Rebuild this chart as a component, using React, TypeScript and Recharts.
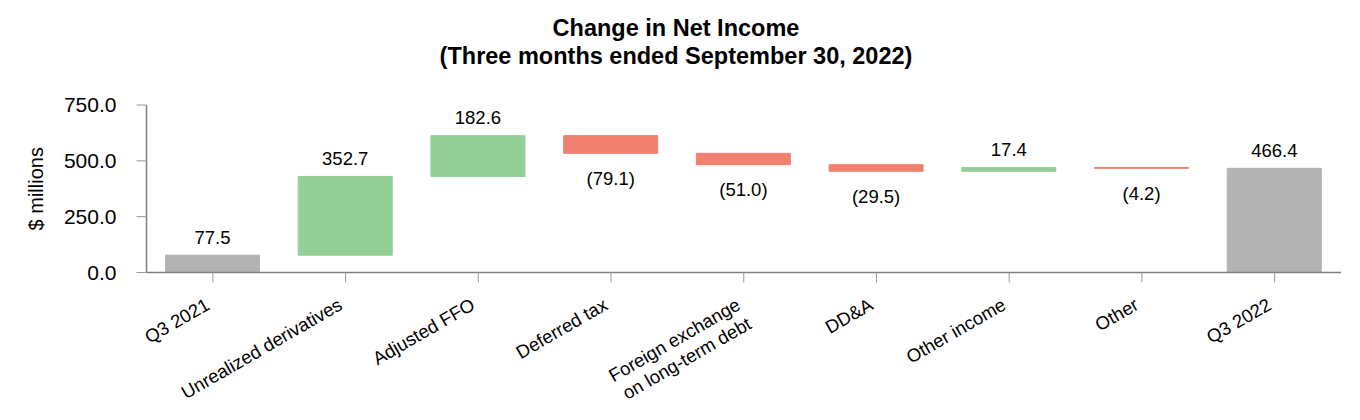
import React from "react";
import { BarChart, Bar, XAxis, YAxis, Cell, LabelList } from "recharts";

const categories = [
  "Q3 2021",
  "Unrealized derivatives",
  "Adjusted FFO",
  "Deferred tax",
  "Foreign exchange\non long-term debt",
  "DD&A",
  "Other income",
  "Other",
  "Q3 2022",
];
const changes = [77.5, 352.7, 182.6, -79.1, -51.0, -29.5, 17.4, -4.2, 466.4];
const isTotal = [true, false, false, false, false, false, false, false, true];
const valueLabels = ["77.5", "352.7", "182.6", "(79.1)", "(51.0)", "(29.5)", "17.4", "(4.2)", "466.4"];
const yTicks = [0, 250, 500, 750];

const GRAY = "#b3b3b3";
const GREEN = "#93cf96";
const RED = "#f08070";
const AXIS = "#808080";
const FONT = "'Liberation Sans', Arial, Helvetica, sans-serif";

// running total -> invisible base + visible step
let running = 0;
const data = categories.map((name, i) => {
  const ch = changes[i];
  if (isTotal[i]) {
    running = ch;
    return { name, base: 0, size: ch, color: GRAY, up: true, label: valueLabels[i] };
  }
  const prev = running;
  running = prev + ch;
  return {
    name,
    base: Math.min(prev, running),
    size: Math.abs(ch),
    color: ch >= 0 ? GREEN : RED,
    up: ch >= 0,
    label: valueLabels[i],
  };
});

const CategoryTick = (props: any) => {
  const { x, y, payload } = props;
  const lines = String(payload.value).split("\n");
  return (
    <g transform={`translate(${x - 2},${y + 24}) rotate(-30)`}>
      <text textAnchor="end" fontSize={18.5} fontFamily={FONT} fill="#000">
        {lines.map((l, i) => (
          <tspan key={i} x={0} dy={i === 0 ? 0 : 22}>
            {l}
          </tspan>
        ))}
      </text>
    </g>
  );
};

const ValueLabel = (props: any) => {
  const { x, y, width, height, index } = props;
  const d = data[index];
  if (!d) return null;
  const cx = Number(x) + Number(width) / 2;
  const ty = d.up ? Number(y) - 18 : Number(y) + Number(height) + 25;
  return (
    <text x={cx} y={ty} textAnchor="middle" dominantBaseline="central" fontSize={18.5} fontFamily={FONT} fill="#000">
      {d.label}
    </text>
  );
};

const YLabel = (props: any) => {
  const vb = props.viewBox || {};
  const cy = (vb.y ?? 105) + (vb.height ?? 167.5) / 2;
  return (
    <text
      x={36}
      y={cy}
      transform={`rotate(-90, 36, ${cy})`}
      textAnchor="middle"
      dominantBaseline="central"
      fontSize={20}
      fontFamily={FONT}
      fill="#000"
    >
      $ millions
    </text>
  );
};

export default function App() {
  return (
    <div style={{ position: "absolute", left: 0, top: 0, width: 1360, height: 420, background: "#fff", fontFamily: FONT }}>
      <div
        style={{
          position: "absolute",
          left: 0,
          top: 14,
          width: 1352,
          textAlign: "center",
          fontSize: 23.5,
          fontWeight: "bold",
          lineHeight: "28px",
          color: "#000",
        }}
      >
        <div>Change in Net Income</div>
        <div>(Three months ended September 30, 2022)</div>
      </div>
      <BarChart
        width={1360}
        height={420}
        data={data}
        margin={{ top: 105, right: 19, bottom: 7.5, left: 1.5 }}
        barSize={94}
      >
        <XAxis
          dataKey="name"
          interval={0}
          height={140}
          tickSize={10}
          axisLine={{ stroke: AXIS, strokeWidth: 1.5 }}
          tickLine={{ stroke: "#999" }}
          tick={<CategoryTick />}
        />
        <YAxis
          width={145}
          domain={[0, 750]}
          ticks={yTicks}
          tickFormatter={(v: number) => v.toFixed(1)}
          tickSize={10}
          tickMargin={20}
          axisLine={{ stroke: AXIS, strokeWidth: 1.5 }}
          tickLine={{ stroke: "#999" }}
          tick={{ fontSize: 21, fill: "#000", fontFamily: FONT }}
          label={<YLabel />}
        />
        <Bar dataKey="base" stackId="w" fill="transparent" isAnimationActive={false} />
        <Bar dataKey="size" stackId="w" isAnimationActive={false}>
          {data.map((d) => (
            <Cell key={d.name} fill={d.color} stroke={d.color} strokeWidth={1} />
          ))}
          <LabelList dataKey="size" content={<ValueLabel />} />
        </Bar>
      </BarChart>
    </div>
  );
}
